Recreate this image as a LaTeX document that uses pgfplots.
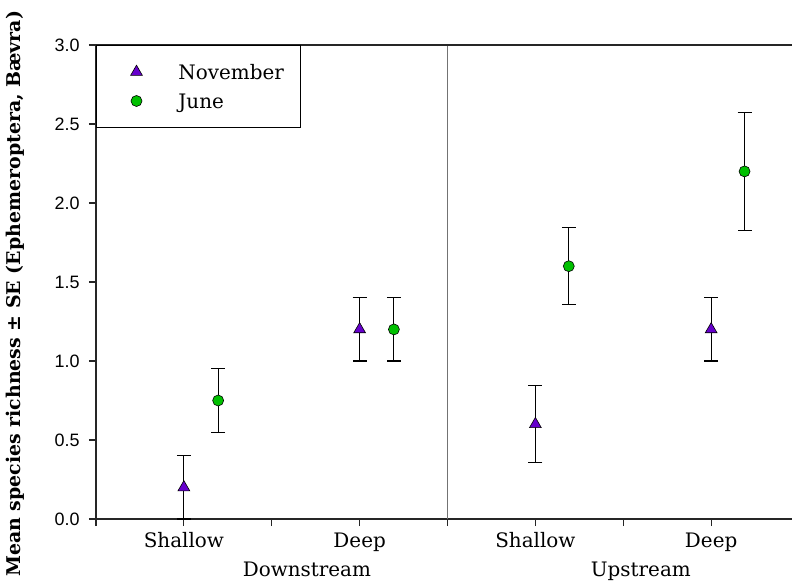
\documentclass[border=0pt]{standalone}
\usepackage{fontspec}
\setmainfont{DejaVu Serif}
\setsansfont{Liberation Sans}
\usepackage{pgfplots}
\pgfplotsset{compat=1.18}
\definecolor{nov}{RGB}{102,0,204}
\definecolor{jun}{RGB}{0,192,0}

\begin{document}
\begin{tikzpicture}
\begin{axis}[
  scale only axis,
  width=696bp, height=474bp,
  xmin=0, xmax=7.92, ymin=0, ymax=3,
  axis lines*=left,
  axis line style={line width=1.2bp, black!85},
  tick align=outside,
  major tick length=7bp,
  tick style={line width=1.1bp, black!85},
  xtick={0,1,2,3,4,5,6,7},
  xticklabels={,Shallow,,Deep,,Shallow,,Deep},
  ytick={0,0.5,1,1.5,2,2.5,3},
  yticklabels={0.0,0.5,1.0,1.5,2.0,2.5,3.0},
  /pgf/number format/assume math mode=true,
  yticklabel style={font=\sffamily\fontsize{18}{18}\selectfont, xshift=-6bp},
  xticklabel style={font=\fontsize{20}{20}\selectfont, yshift=-3bp},
  ylabel={\textbf{Mean species richness ± SE (Ephemeroptera, Bævra)}},
  ylabel style={font=\fontsize{19}{19}\selectfont, at={(axis description cs:-0.1164,0.475)}, anchor=center},
  legend style={at={(rel axis cs:0,1)}, anchor=north west, draw=black, line width=1bp,
    inner xsep=0pt, inner ysep=12bp, row sep=0pt, column sep=0pt,
    cells={anchor=west},
    nodes={inner sep=0pt, text height=22.5bp, text depth=6.5bp, text width=122bp,
      font=\fontsize{20}{20}\selectfont}},
  legend image code/.code={%
    \path[draw=none] (0bp,0bp) -- (82bp,0bp);
    \path[#1, draw=none] plot coordinates {(40bp,0bp)};},
  clip=false,
]
% divider between the two reaches and the top frame line
\draw[line width=1.6bp, black!55] (axis cs:4,0) -- (axis cs:4,3);
\draw[line width=1.2bp, black!85] (rel axis cs:0,1) -- (rel axis cs:1,1);

% November
\addplot[only marks, mark=triangle*, mark size=6.8bp,
  mark options={fill=nov, draw=black, line width=0.6bp},
  error bars/.cd, y dir=both, y explicit,
  error bar style={line width=1.1bp, black},
  error mark options={rotate=90, mark size=7bp, line width=1.1bp, black}]
  coordinates {
  (1,0.2) +- (0,0.2)
  (3,1.2) +- (0,0.2)
  (5,0.6) +- (0,0.245)
  (7,1.2) +- (0,0.2)
  };
\addlegendentry{November}

% June
\addplot[only marks, mark=*, mark size=5.5bp,
  mark options={fill=jun, draw=black, line width=0.6bp},
  error bars/.cd, y dir=both, y explicit,
  error bar style={line width=1.1bp, black},
  error mark options={rotate=90, mark size=7bp, line width=1.1bp, black}]
  coordinates {
  (1.39,0.75) +- (0,0.2)
  (3.39,1.2) +- (0,0.2)
  (5.38,1.6) +- (0,0.245)
  (7.38,2.2) +- (0,0.375)
  };
\addlegendentry{June}

\node[anchor=base, font=\fontsize{20}{20}\selectfont] at (axis cs:2.4,-0.363) {Downstream};
\node[anchor=base, font=\fontsize{20}{20}\selectfont] at (axis cs:6.2,-0.363) {Upstream};
\coordinate (ll) at (rel axis cs:0,0);
\end{axis}
\pgfresetboundingbox
\path (ll) ++(-96bp,-63bp) rectangle ++(792bp,582bp);
\end{tikzpicture}
\end{document}
